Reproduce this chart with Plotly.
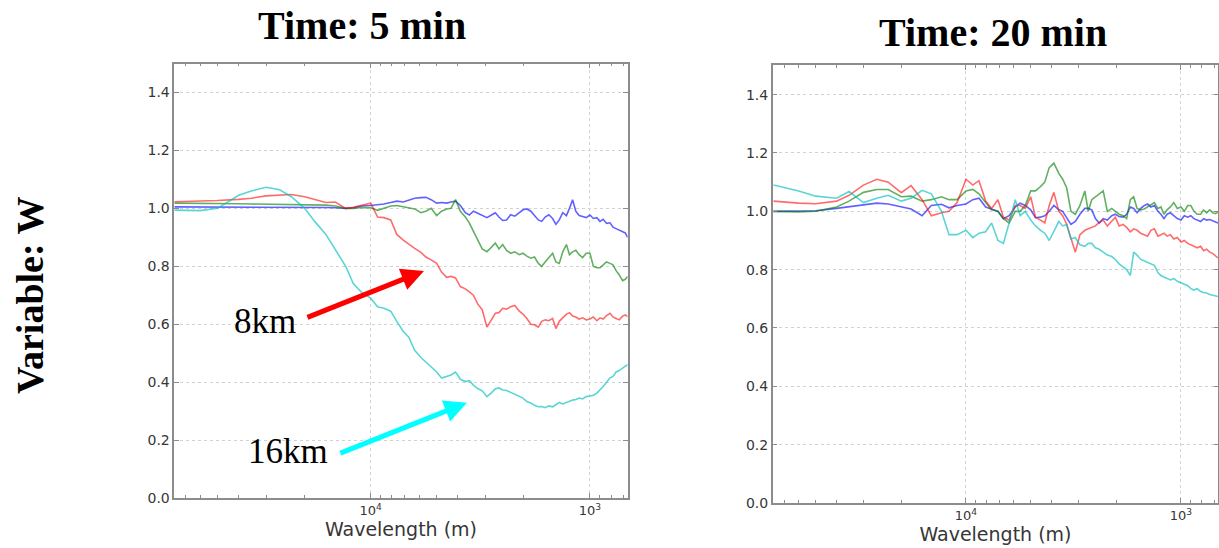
import plotly.graph_objects as go

# Wavelength sample points (m), shared by every spectrum ratio curve
WAVELENGTH_M = [
    78600, 60000, 50000, 40000, 35000, 30000, 26000, 23000, 20000, 18000,
    16000, 14500, 13000, 12000, 11000, 10000, 9300, 8700, 8100, 7600,
    7100, 6700, 6300, 5900, 5600, 5300, 5000, 4750, 4500, 4300,
    4100, 3900, 3700, 3550, 3400, 3250, 3100, 2950, 2800, 2700,
    2600, 2500, 2400, 2300, 2200, 2100, 2020, 1940, 1860, 1790,
    1720, 1660, 1600, 1540, 1480, 1430, 1380, 1330, 1280, 1240,
    1200, 1160, 1120, 1080, 1040, 1000, 965, 930, 900, 870,
    840, 810, 785, 760, 735, 710, 690, 673,
]

# Time: 5 min
T5_2KM = [
    1.005, 1.005, 1.005, 1.005, 1.005, 1.005, 1.005, 1.004, 1.004, 1.005,
    1.003, 1.002, 1.000, 1.002, 1.008, 1.010, 1.012, 1.015, 1.020, 1.025,
    1.022, 1.028, 1.035, 1.037, 1.038, 1.030, 1.018, 1.020, 1.018, 1.022,
    1.025, 1.010, 0.985, 0.977, 0.990, 0.983, 0.975, 0.968, 0.978, 0.985,
    0.970, 0.958, 0.960, 0.978, 0.973, 0.985, 0.995, 0.998, 0.990, 0.975,
    0.960, 0.955, 0.970, 0.978, 0.965, 0.945, 0.960, 0.985, 0.975, 1.000,
    1.030, 0.990, 0.975, 0.972, 0.968, 0.977, 0.965, 0.968, 0.955, 0.962,
    0.948, 0.950, 0.935, 0.930, 0.925, 0.920, 0.915, 0.900,
]
T5_4KM = [
    1.018, 1.018, 1.018, 1.016, 1.015, 1.014, 1.013, 1.012, 1.012, 1.012,
    1.011, 1.008, 1.000, 1.000, 1.003, 1.002, 0.993, 1.000, 1.008, 1.010,
    1.006, 1.002, 0.998, 0.985, 0.990, 1.000, 0.975, 0.990, 0.998, 1.000,
    1.030, 0.990, 0.970, 0.950, 0.920, 0.890, 0.860, 0.850, 0.870, 0.880,
    0.860, 0.875, 0.855, 0.845, 0.850, 0.840, 0.845, 0.835, 0.828, 0.832,
    0.810, 0.800, 0.815, 0.830, 0.845, 0.815, 0.810, 0.850, 0.875, 0.840,
    0.850, 0.855, 0.840, 0.830, 0.845, 0.845, 0.800, 0.795, 0.795, 0.805,
    0.815, 0.810, 0.805, 0.785, 0.770, 0.750, 0.755, 0.765,
]
T5_8KM = [
    1.023, 1.025, 1.027, 1.031, 1.035, 1.043, 1.046, 1.048, 1.040, 1.030,
    1.020, 1.022, 1.000, 1.004, 1.010, 1.018, 0.970, 0.968, 0.960, 0.910,
    0.890, 0.875, 0.862, 0.848, 0.832, 0.822, 0.810, 0.780, 0.762, 0.765,
    0.760, 0.730, 0.722, 0.712, 0.700, 0.670, 0.650, 0.590, 0.620, 0.638,
    0.640, 0.655, 0.652, 0.660, 0.665, 0.645, 0.635, 0.620, 0.600, 0.598,
    0.590, 0.610, 0.615, 0.612, 0.620, 0.585, 0.610, 0.622, 0.635, 0.640,
    0.628, 0.625, 0.618, 0.622, 0.615, 0.618, 0.625, 0.612, 0.622, 0.618,
    0.630, 0.638, 0.625, 0.620, 0.615, 0.628, 0.632, 0.626,
]
T5_16KM = [
    0.994, 0.992, 1.000, 1.045, 1.060, 1.073, 1.064, 1.040, 1.000, 0.955,
    0.910, 0.860, 0.800, 0.740, 0.710, 0.690, 0.660, 0.655, 0.645, 0.610,
    0.575, 0.555, 0.510, 0.485, 0.470, 0.455, 0.435, 0.414, 0.420, 0.425,
    0.435, 0.410, 0.402, 0.405, 0.390, 0.378, 0.370, 0.350, 0.365, 0.377,
    0.380, 0.373, 0.371, 0.365, 0.358, 0.350, 0.345, 0.333, 0.328, 0.320,
    0.315, 0.316, 0.312, 0.318, 0.315, 0.322, 0.330, 0.325, 0.330, 0.335,
    0.338, 0.340, 0.345, 0.342, 0.350, 0.352, 0.355, 0.362, 0.373, 0.385,
    0.400, 0.415, 0.420, 0.435, 0.440, 0.450, 0.455, 0.460,
]

# Time: 20 min
T20_2KM = [
    1.000, 1.000, 1.002, 1.010, 1.016, 1.022, 1.028, 1.025, 1.016, 1.008,
    0.985, 1.020, 1.024, 1.012, 1.020, 1.025, 1.040, 1.045, 1.015, 1.008,
    1.000, 0.975, 0.985, 1.015, 1.028, 1.020, 1.005, 0.978, 0.980, 0.985,
    1.000, 1.020, 1.005, 1.000, 0.980, 0.955, 0.965, 0.990, 1.010, 1.010,
    1.005, 0.975, 0.960, 0.975, 0.970, 0.985, 0.990, 0.982, 0.980, 0.990,
    1.015, 1.010, 0.995, 1.010, 1.020, 1.025, 1.015, 1.020, 1.000, 0.990,
    0.975, 0.990, 0.995, 0.985, 0.975, 0.970, 0.985, 0.980, 0.985, 0.975,
    0.970, 0.965, 0.975, 0.970, 0.972, 0.968, 0.962, 0.960,
]
T20_4KM = [
    1.000, 0.998, 1.000, 1.015, 1.035, 1.065, 1.075, 1.075, 1.050, 1.052,
    1.035, 1.040, 1.050, 1.040, 1.040, 1.070, 1.075, 1.060, 1.030, 1.005,
    1.000, 0.975, 0.960, 1.000, 1.000, 1.020, 1.070, 1.070, 1.085, 1.100,
    1.150, 1.165, 1.130, 1.110, 1.080, 1.000, 0.990, 1.020, 1.070, 1.000,
    1.040, 1.050, 1.060, 1.070, 1.000, 1.010, 1.000, 0.990, 0.985, 0.975,
    1.040, 1.050, 1.010, 1.005, 1.008, 1.015, 1.020, 1.030, 1.010, 1.015,
    0.990, 1.005, 1.015, 1.030, 1.010, 1.015, 1.000, 1.020, 1.020, 1.000,
    0.990, 0.990, 1.005, 0.995, 1.005, 0.995, 0.992, 0.998,
]
T20_8KM = [
    1.035, 1.028, 1.026, 1.035, 1.055, 1.090, 1.110, 1.100, 1.064, 1.088,
    1.040, 0.985, 0.995, 1.000, 1.030, 1.110, 1.090, 1.105, 1.035, 1.010,
    1.040, 0.980, 0.970, 1.020, 1.020, 1.010, 1.050, 0.980, 0.970, 0.960,
    1.020, 1.065, 1.000, 0.985, 0.955, 0.910, 0.860, 0.920, 0.935, 0.940,
    0.945, 0.950, 0.962, 0.970, 0.950, 0.965, 0.980, 0.950, 0.955, 0.945,
    0.930, 0.940, 0.935, 0.925, 0.920, 0.915, 0.935, 0.940, 0.915, 0.920,
    0.925, 0.915, 0.920, 0.905, 0.910, 0.895, 0.900, 0.890, 0.885, 0.880,
    0.875, 0.880, 0.865, 0.870, 0.860, 0.855, 0.845, 0.840,
]
T20_16KM = [
    1.090, 1.070, 1.052, 1.045, 1.068, 1.030, 1.045, 1.055, 1.035, 1.045,
    1.072, 1.060, 1.000, 0.920, 0.920, 0.935, 0.910, 0.925, 0.930, 0.960,
    0.900, 0.890, 0.960, 1.040, 0.985, 1.000, 0.970, 0.950, 0.935, 0.925,
    0.900, 0.930, 0.965, 0.950, 0.955, 0.905, 0.910, 0.885, 0.880, 0.890,
    0.890, 0.875, 0.870, 0.860, 0.850, 0.845, 0.835, 0.820, 0.810, 0.800,
    0.780, 0.860, 0.850, 0.835, 0.830, 0.825, 0.820, 0.815, 0.790, 0.780,
    0.775, 0.770, 0.765, 0.770, 0.760, 0.755, 0.750, 0.745, 0.735, 0.730,
    0.735, 0.725, 0.722, 0.720, 0.715, 0.712, 0.710, 0.708,
]

Y_TICKS = [0.0, 0.2, 0.4, 0.6, 0.8, 1.0, 1.2, 1.4]
X_TICKS = [10000, 1000]
X_TICK_TEXT = ["10<sup>4</sup>", "10<sup>3</sup>"]
X_MINOR = [700, 800, 900, 2000, 3000, 4000, 5000, 6000, 7000, 8000, 9000,
           20000, 30000, 40000, 50000, 60000, 70000]

COLORS = {
    "2km": "rgba(0,0,255,0.62)",
    "4km": "rgba(0,128,0,0.62)",
    "8km": "rgba(255,0,0,0.58)",
    "16km": "rgba(0,191,191,0.65)",
}

fig = go.Figure()

panels = [
    ("x", "y", {"2km": T5_2KM, "4km": T5_4KM, "8km": T5_8KM, "16km": T5_16KM}),
    ("x2", "y2", {"2km": T20_2KM, "4km": T20_4KM, "8km": T20_8KM, "16km": T20_16KM}),
]
for xa, ya, series in panels:
    for name, vals in series.items():
        fig.add_trace(go.Scatter(
            x=WAVELENGTH_M, y=vals, mode="lines", name=name,
            line=dict(color=COLORS[name], width=1.6),
            xaxis=xa, yaxis=ya, showlegend=False,
        ))

FRAME = "#8c8c8c"
GRID = "#d2d2d2"
LABEL = "#363636"


def x_axis(domain, rng, anchor):
    return dict(
        type="log", domain=domain, range=rng, anchor=anchor, automargin=False,
        showline=True, linecolor=FRAME, linewidth=1.5, mirror="allticks",
        ticks="inside", ticklen=5, tickcolor=FRAME,
        tickmode="array", tickvals=X_TICKS, ticktext=X_TICK_TEXT,
        tickfont=dict(family="DejaVu Sans", size=13, color=LABEL),
        showgrid=True, gridcolor=GRID, griddash="dot", gridwidth=1,
        minor=dict(tickmode="array", tickvals=X_MINOR, ticks="inside",
                   ticklen=3, tickcolor=FRAME, showgrid=False),
        title=dict(text="Wavelength (m)", standoff=3,
                   font=dict(family="DejaVu Sans", size=19, color=LABEL)),
        zeroline=False,
    )


def y_axis(domain, anchor):
    return dict(
        domain=domain, range=[0, 1.5], anchor=anchor, automargin=False,
        showline=True, linecolor=FRAME, linewidth=1.5, mirror="allticks",
        ticks="inside", ticklen=5, tickcolor=FRAME,
        tickmode="array", tickvals=Y_TICKS,
        ticktext=[f"{v:.1f}" for v in Y_TICKS],
        tickfont=dict(family="DejaVu Sans", size=14, color=LABEL),
        showgrid=True, gridcolor=GRID, griddash="dot", gridwidth=1,
        zeroline=False,
    )


SERIF = "Liberation Serif"

annotations = [
    dict(text="Time: 5 min", x=0.297, y=0.954, xref="paper", yref="paper",
         showarrow=False, xanchor="center", yanchor="middle",
         font=dict(family=SERIF, size=40, color="black", weight="bold")),
    dict(text="Time: 20 min", x=0.8146, y=0.9416, xref="paper", yref="paper",
         showarrow=False, xanchor="center", yanchor="middle",
         font=dict(family=SERIF, size=40, color="black", weight="bold")),
    dict(text="Variable: W", x=0.0246, y=0.4617, xref="paper", yref="paper",
         showarrow=False, textangle=-90, xanchor="center", yanchor="middle",
         font=dict(family=SERIF, size=38, color="black", weight="bold")),
    # labelled arrows pointing at the 8km and 16km curves
    dict(text="", x=3.757, y=0.784, xref="x", yref="y",
         ax=-118, ay=47, axref="pixel", ayref="pixel", showarrow=True,
         arrowcolor="#ff0000", arrowwidth=5, arrowhead=2, arrowsize=0.9,
         standoff=0),
    dict(text="", x=3.561, y=0.329, xref="x", yref="y",
         ax=-128, ay=51, axref="pixel", ayref="pixel", showarrow=True,
         arrowcolor="#00ffff", arrowwidth=5, arrowhead=2, arrowsize=0.9,
         standoff=0),
    dict(text="8km", x=4.482, y=0.608, xref="x", yref="y", showarrow=False,
         xanchor="center", yanchor="middle",
         font=dict(family=SERIF, size=35, color="black")),
    dict(text="16km", x=4.379, y=0.160, xref="x", yref="y", showarrow=False,
         xanchor="center", yanchor="middle",
         font=dict(family=SERIF, size=35, color="black")),
]

fig.update_layout(
    width=1219, height=548, autosize=False,
    margin=dict(l=0, r=0, t=0, b=0, autoexpand=False),
    paper_bgcolor="white", plot_bgcolor="white",
    xaxis=x_axis([0.1430, 0.5149], [4.8954, 2.8280], "y"),
    yaxis=y_axis([0.0912, 0.8841], "x"),
    xaxis2=x_axis([0.6339, 0.9994], [4.8990, 2.8265], "y2"),
    yaxis2=y_axis([0.0821, 0.8805], "x2"),
    annotations=annotations,
)

fig.write_html("out.html")
